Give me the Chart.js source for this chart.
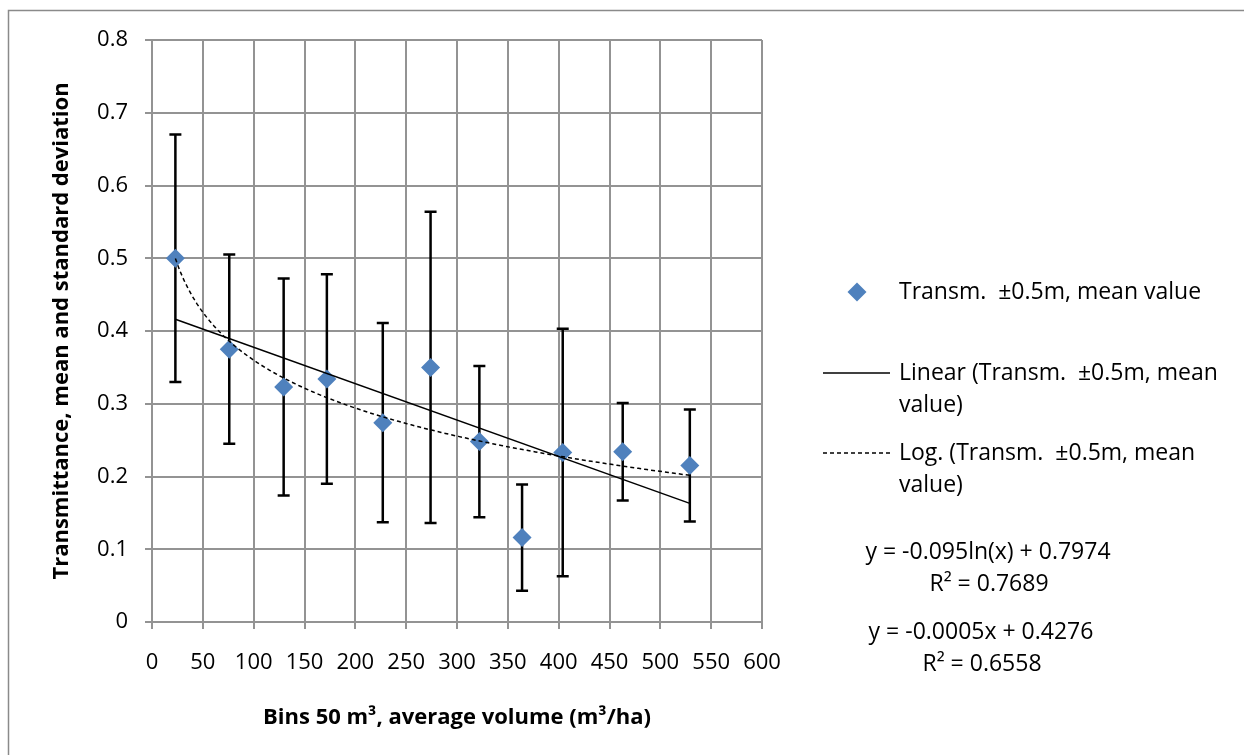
<!DOCTYPE html>
<html>
<head>
<meta charset="utf-8">
<title>Transmittance vs. average volume</title>
<script src="https://cdn.jsdelivr.net/npm/chart.js@4/dist/chart.umd.min.js"></script>
<style>
  html, body { margin: 0; padding: 0; background: #ffffff; }
  canvas { display: block; }
</style>
</head>
<body>
<canvas id="chart" width="1244" height="755"></canvas>
<script>
// Bin averages of standing volume (m3/ha)
const volumeBins = [23, 76, 129.5, 172, 227, 274, 322, 364, 404, 463, 529];
// Mean transmittance (±0.5 m) per bin
const meanTransmittance = [0.500, 0.375, 0.323, 0.334, 0.274, 0.350, 0.248, 0.116, 0.233, 0.234, 0.215];
// Standard deviation per bin (error bar half-length)
const stdDeviation = [0.170, 0.130, 0.149, 0.144, 0.137, 0.214, 0.104, 0.073, 0.170, 0.067, 0.077];

// Axis ticks
const xTicks = [0, 50, 100, 150, 200, 250, 300, 350, 400, 450, 500, 550, 600];
const yTicks = [0, 0.1, 0.2, 0.3, 0.4, 0.5, 0.6, 0.7, 0.8];

// Fitted trendline coefficients
const logSlope = -0.095, logIntercept = 0.7974, logR2 = 0.7689;
const linSlope = -0.0005, linIntercept = 0.4276, linR2 = 0.6558;

const seriesName = 'Transm.  \u00B10.5m, mean value';

// Trendline curves evaluated across the data range
const xMin = Math.min(...volumeBins), xMax = Math.max(...volumeBins);
const linearTrend = [xMin, xMax].map(x => ({ x, y: linSlope * x + linIntercept }));
const logTrend = [];
for (let k = 0; k <= 120; k++) {
  const x = xMin + (xMax - xMin) * k / 120;
  logTrend.push({ x, y: logSlope * Math.log(x) + logIntercept });
}

const FONT = '"Open Sans", "DejaVu Sans", sans-serif';
const GRID = '#939393';
const MARKER = '#4F81BD';

// Outer frame of the chart
const frame = {
  id: 'frame',
  beforeDraw(chart) {
    const ctx = chart.ctx;
    ctx.save();
    ctx.fillStyle = '#ffffff';
    ctx.fillRect(0, 0, chart.width, chart.height);
    ctx.strokeStyle = '#8a8a8a';
    ctx.lineWidth = 1.5;
    ctx.strokeRect(8.5, 10.5, chart.width + 20, chart.height + 20);
    ctx.restore();
  }
};

// Vertical error bars (mean ± standard deviation)
const errorBars = {
  id: 'errorBars',
  beforeDatasetsDraw(chart) {
    const { ctx, scales: { x, y } } = chart;
    ctx.save();
    ctx.strokeStyle = '#000000';
    ctx.lineWidth = 2.5;
    volumeBins.forEach((v, i) => {
      const px = x.getPixelForValue(v);
      const top = y.getPixelForValue(meanTransmittance[i] + stdDeviation[i]);
      const bot = y.getPixelForValue(meanTransmittance[i] - stdDeviation[i]);
      ctx.beginPath();
      ctx.moveTo(px, top); ctx.lineTo(px, bot);
      ctx.moveTo(px - 6, top); ctx.lineTo(px + 6, top);
      ctx.moveTo(px - 6, bot); ctx.lineTo(px + 6, bot);
      ctx.stroke();
    });
    ctx.restore();
  }
};

// Legend and trendline equations on the right-hand side
const sideLegend = {
  id: 'sideLegend',
  afterDraw(chart) {
    const ctx = chart.ctx;
    ctx.save();
    ctx.font = '23px ' + FONT;
    ctx.fillStyle = '#000000';
    ctx.textBaseline = 'middle';
    ctx.textAlign = 'left';

    // marker entry
    const mx = 857, my = 292, r = 9.5;
    ctx.beginPath();
    ctx.moveTo(mx - r, my); ctx.lineTo(mx, my - r); ctx.lineTo(mx + r, my); ctx.lineTo(mx, my + r);
    ctx.closePath();
    ctx.fillStyle = MARKER;
    ctx.fill();
    ctx.fillStyle = '#000000';
    ctx.fillText(seriesName, 899, 292);

    // linear trend entry
    ctx.strokeStyle = '#000000';
    ctx.lineWidth = 1.5;
    ctx.beginPath(); ctx.moveTo(823, 373); ctx.lineTo(890, 373); ctx.stroke();
    ctx.fillText('Linear (Transm.  \u00B10.5m, mean', 899, 373);
    ctx.fillText('value)', 899, 405);

    // log trend entry
    ctx.setLineDash([4, 3]);
    ctx.beginPath(); ctx.moveTo(823, 453); ctx.lineTo(890, 453); ctx.stroke();
    ctx.setLineDash([]);
    ctx.fillText('Log. (Transm.  \u00B10.5m, mean', 899, 453);
    ctx.fillText('value)', 899, 485);

    // equations
    ctx.textAlign = 'center';
    ctx.fillText('y = ' + logSlope + 'ln(x) + ' + logIntercept, 988, 552);
    ctx.fillText('R\u00B2 = ' + logR2, 989, 584);
    ctx.fillText('y = ' + linSlope + 'x + ' + linIntercept, 981, 632);
    ctx.fillText('R\u00B2 = ' + linR2, 982, 664);
    ctx.restore();
  }
};

new Chart(document.getElementById('chart'), {
  type: 'scatter',
  data: {
    datasets: [
      {
        label: seriesName,
        data: volumeBins.map((x, i) => ({ x, y: meanTransmittance[i] })),
        pointStyle: 'rectRot',
        pointRadius: 9.5,
        pointHoverRadius: 9.5,
        backgroundColor: MARKER,
        borderColor: MARKER,
        borderWidth: 0,
        order: 3
      },
      {
        label: 'Linear (' + seriesName + ')',
        type: 'line',
        data: linearTrend,
        borderColor: '#000000',
        borderWidth: 1.5,
        pointRadius: 0,
        fill: false,
        order: 2
      },
      {
        label: 'Log. (' + seriesName + ')',
        type: 'line',
        data: logTrend,
        borderColor: '#000000',
        borderWidth: 1.5,
        borderDash: [4, 3],
        pointRadius: 0,
        fill: false,
        order: 1
      }
    ]
  },
  options: {
    responsive: false,
    animation: false,
    events: [],
    layout: { padding: { left: 45, top: 40, right: 482, bottom: 20 } },
    plugins: {
      legend: { display: false },
      tooltip: { enabled: false }
    },
    scales: {
      x: {
        type: 'linear',
        min: 0, max: 600,
        afterBuildTicks: s => { s.ticks = xTicks.map(v => ({ value: v })); },
        afterFit: s => { s.height = 113; },
        ticks: { font: { family: FONT, size: 22 }, color: '#000000', padding: 21, maxRotation: 0, autoSkip: false },
        grid: { color: GRID, lineWidth: 2, tickLength: 7 },
        border: { color: GRID, width: 2 },
        title: {
          display: true,
          text: 'Bins 50 m\u00B3, average volume (m\u00B3/ha)',
          font: { family: FONT, size: 22, weight: 'bold' },
          color: '#000000',
          padding: { top: 4, bottom: 4 }
        }
      },
      y: {
        type: 'linear',
        min: 0, max: 0.8,
        afterBuildTicks: s => { s.ticks = yTicks.map(v => ({ value: v })); },
        afterFit: s => { s.width = 107; },
        ticks: {
          font: { family: FONT, size: 22 }, color: '#000000', padding: 17,
          callback: v => (v === 0 ? '0' : (+v).toFixed(1))
        },
        grid: { color: GRID, lineWidth: 2, tickLength: 7 },
        border: { color: GRID, width: 2 },
        title: {
          display: true,
          text: 'Transmittance, mean and standard deviation',
          font: { family: FONT, size: 22, weight: 'bold' },
          color: '#000000',
          padding: { top: 4, bottom: 4 }
        }
      }
    }
  },
  plugins: [frame, errorBars, sideLegend]
});
</script>
</body>
</html>
